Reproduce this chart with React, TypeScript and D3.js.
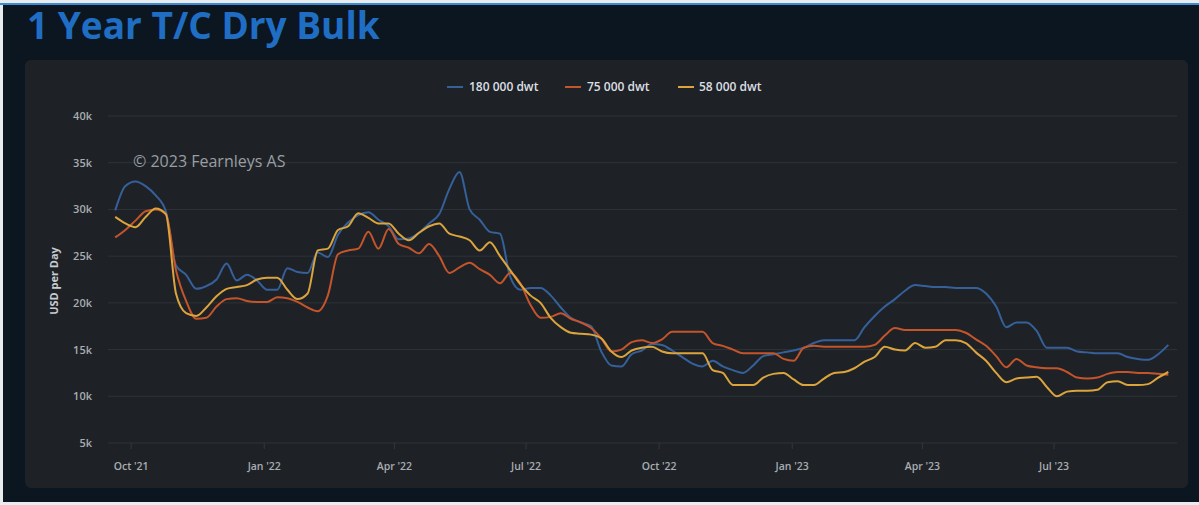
import React from "react";
import * as d3 from "d3";

const START = new Date(2021, 8, 20);
const SERIES_NAMES = ["180 000 dwt", "75 000 dwt", "58 000 dwt"];
const SERIES_COLORS = ["#35609a", "#c4542a", "#dba43c"];

const dwt180 = [
  29.9, 32.5, 33.0, 32.5, 31.5, 29.8, 24.0, 23.0, 21.5, 21.8, 22.5, 24.2, 22.4, 23.0, 22.4, 21.4, 21.4, 23.7, 23.3, 23.2,
  25.4, 24.9, 27.3, 28.6, 29.4, 29.7, 28.9, 28.2, 26.8, 26.9, 27.5, 28.5, 29.5, 32.2, 34.0, 30.0, 28.9, 27.6, 27.4, 22.8,
  21.4, 21.6, 21.6, 20.8, 19.5, 18.4, 17.9, 17.5, 14.8, 13.3, 13.2, 14.5, 14.9, 15.6, 15.5, 14.9, 14.2, 13.5, 13.2, 13.8,
  13.2, 12.8, 12.5, 13.3, 14.3, 14.5, 14.7, 14.9, 15.2, 15.7, 16.0, 16.0, 16.0, 16.0, 17.4, 18.6, 19.6, 20.4, 21.3, 21.9,
  21.8, 21.7, 21.7, 21.6, 21.6, 21.6, 21.0, 19.6, 17.4, 17.9, 17.9, 17.0, 15.2, 15.2, 15.2, 14.8, 14.7, 14.6, 14.6, 14.6,
  14.2, 14.0, 13.9, 14.5, 15.5,
];
const dwt75 = [
  27.0, 27.8, 28.8, 29.8, 30.0, 29.5, 23.5, 20.2, 18.3, 18.4, 19.6, 20.4, 20.5, 20.2, 20.1, 20.1, 20.6, 20.5, 20.1, 19.5,
  19.1, 20.8, 25.2, 25.6, 25.8, 27.6, 25.8, 27.9, 26.3, 25.9, 25.3, 26.3, 25.0, 23.2, 23.8, 24.3, 23.6, 23.0, 22.1, 23.2,
  22.1, 19.8, 18.4, 18.5, 18.9, 18.3, 17.9, 17.3, 16.2, 14.8, 15.0, 15.8, 16.0, 15.7, 16.1, 16.9, 16.9, 16.9, 16.9, 15.7,
  15.4, 15.0, 14.6, 14.6, 14.6, 14.6, 14.0, 13.8, 15.2, 15.4, 15.3, 15.3, 15.3, 15.3, 15.3, 15.5, 16.5, 17.3, 17.1, 17.1,
  17.1, 17.1, 17.1, 17.1, 16.8, 16.1, 15.4, 14.3, 13.1, 14.0, 13.3, 13.1, 13.0, 13.0, 12.6, 12.0, 11.9, 12.0, 12.4, 12.6,
  12.6, 12.5, 12.5, 12.4, 12.3,
];
const dwt58 = [
  29.2, 28.5, 28.1, 29.2, 30.1, 29.5, 21.0, 18.9, 18.6, 19.5, 20.7, 21.5, 21.7, 21.9, 22.5, 22.7, 22.7, 21.4, 20.4, 21.0,
  25.6, 25.8, 27.8, 28.2, 29.6, 29.1, 28.5, 28.5, 27.4, 26.7, 27.5, 28.2, 28.5, 27.4, 27.1, 26.7, 25.6, 26.5, 25.0, 23.5,
  22.0, 20.8, 20.0, 18.4, 17.4, 16.8, 16.7, 16.6, 16.2, 14.8, 14.2, 14.9, 15.2, 15.3, 14.8, 14.6, 14.6, 14.6, 14.6, 12.8,
  12.5, 11.2, 11.2, 11.2, 12.0, 12.4, 12.5, 11.8, 11.2, 11.2, 11.9, 12.5, 12.6, 13.0, 13.7, 14.2, 15.3, 15.0, 14.9, 15.7,
  15.2, 15.3, 16.0, 16.0, 15.7, 14.7, 13.8, 12.5, 11.5, 11.9, 12.0, 12.1, 11.0, 10.0, 10.5, 10.6, 10.6, 10.7, 11.5, 11.6,
  11.2, 11.2, 11.3, 12.0, 12.6,
];
const Y_TICKS = [5000, 10000, 15000, 20000, 25000, 30000, 35000, 40000];
const X_TICKS = [
  new Date(2021, 9, 1), new Date(2022, 0, 1), new Date(2022, 3, 1), new Date(2022, 6, 1),
  new Date(2022, 9, 1), new Date(2023, 0, 1), new Date(2023, 3, 1), new Date(2023, 6, 1),
];

const W = 1199;
const H = 505;
const PL = 108;
const PR = 1177;
const PT = 116;
const PB = 443;

export default function App() {
  const x = d3.scaleTime().domain([new Date(2021, 8, 15), new Date(2023, 8, 24)]).range([PL, PR]);
  const y = d3.scaleLinear().domain([5000, 40000]).range([PB, PT]);
  const dates = dwt180.map((_, i) => d3.timeDay.offset(START, 7 * i));
  const all = [dwt180, dwt75, dwt58];
  const line = d3
    .line<number>()
    .x((_, i) => x(dates[i]))
    .y((d) => y(d * 1000))
    .curve(d3.curveMonotoneX);
  const fmtX = d3.timeFormat("%b '%y");
  const fmtY = (v: number) => `${v / 1000}k`;
  const font = "'Open Sans', 'Liberation Sans', Arial, sans-serif";

  const legendItems = [
    { x: 447, tx: 469 },
    { x: 565, tx: 587 },
    { x: 678, tx: 699 },
  ];

  return (
    <div style={{ position: "fixed", left: 0, top: 0, width: W, height: H }}>
      <svg width={W} height={H} style={{ display: "block", fontFamily: font }}>
        <rect x={0} y={0} width={W} height={H} fill="#e9ecef" />
        <rect x={3} y={5} width={W - 3} height={497} fill="#0c1621" />
        <rect x={0} y={3} width={W} height={2} fill="#3e8bd3" />
        <text x={27} y={39} fill="#1f6ec4" fontSize={37} fontWeight={700} fontFamily={font}>
          1 Year T/C Dry Bulk
        </text>
        <rect x={25} y={60} width={1163} height={428} rx={6} fill="#1e2227" />

        {Y_TICKS.map((t) => (
          <g key={t}>
            <line x1={PL} x2={PR} y1={y(t)} y2={y(t)} stroke="#2e3338" strokeWidth={1} />
            <text x={92} y={y(t) + 4} textAnchor="end" fill="#a9adb1" fontSize={11} fontWeight={600}>
              {fmtY(t)}
            </text>
          </g>
        ))}
        {X_TICKS.map((t) => (
          <g key={t.getTime()}>
            <line x1={x(t)} x2={x(t)} y1={PB} y2={PB + 6} stroke="#33383d" strokeWidth={1} />
            <text x={x(t)} y={470} textAnchor="middle" fill="#a9adb1" fontSize={10.5} fontWeight={600}>
              {fmtX(t)}
            </text>
          </g>
        ))}
        <text
          transform={`translate(58,281) rotate(-90)`}
          textAnchor="middle"
          fill="#c9ccd0"
          fontSize={11}
          fontWeight={700}
        >
          USD per Day
        </text>
        <text x={133} y={167} fill="#9a9ea2" fontSize={16}>
          © 2023 Fearnleys AS
        </text>

        {all.map((s, k) => (
          <path key={k} d={line(s) || ""} fill="none" stroke={SERIES_COLORS[k]} strokeWidth={2} strokeLinejoin="round" />
        ))}

        {SERIES_NAMES.map((n, k) => (
          <g key={n}>
            <line x1={legendItems[k].x} x2={legendItems[k].x + 16} y1={87} y2={87} stroke={SERIES_COLORS[k]} strokeWidth={2} />
            <text x={legendItems[k].tx} y={91} fill="#dcdfe2" fontSize={12} fontWeight={600}>
              {n}
            </text>
          </g>
        ))}
      </svg>
    </div>
  );
}
